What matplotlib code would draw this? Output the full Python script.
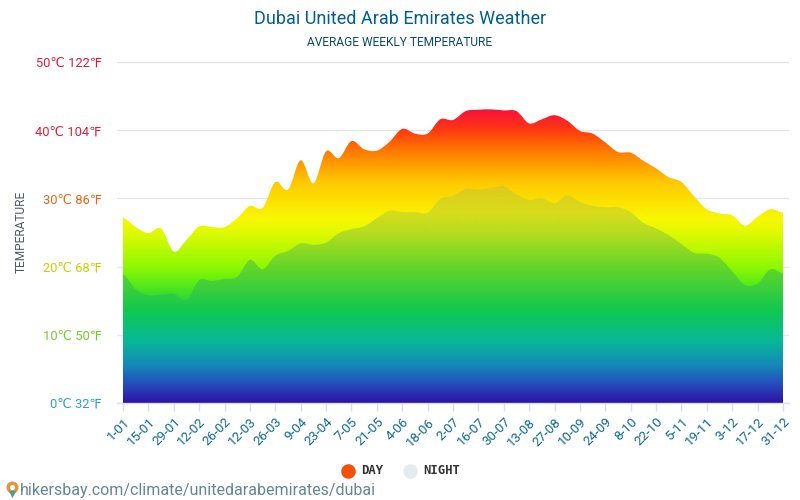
import numpy as np
import matplotlib
matplotlib.use("Agg")
import matplotlib.pyplot as plt
from matplotlib.colors import LinearSegmentedColormap
from matplotlib.path import Path
from matplotlib.patches import PathPatch

plt.rcParams['font.family'] = ['Roboto', 'DejaVu Sans']

# ----------------------------------
# Data
# ----------------------------------
day_temp = [27.2, 25.8, 24.9, 25.6, 22.2, 23.9, 25.9, 25.8, 25.8, 27.1, 28.9, 28.6,
            32.4, 31.3, 35.6, 32.2, 36.9, 35.9, 38.4, 37.2, 37.0, 38.3, 40.2, 39.5,
            39.5, 41.6, 41.5, 42.8, 43.0, 43.05, 42.9, 42.8, 41.0, 41.6, 42.2, 41.4,
            39.9, 39.5, 38.2, 36.8, 36.7, 35.5, 34.4, 33.1, 32.4, 30.3, 28.4, 27.8,
            27.5, 26.0, 27.3, 28.4, 27.9]
night_temp = [18.9, 16.7, 15.8, 15.9, 16.0, 15.1, 18.0, 17.9, 18.2, 18.5, 21.0, 19.6,
              21.6, 22.3, 23.4, 23.2, 23.5, 24.9, 25.5, 25.9, 27.1, 28.2, 28.0, 28.0,
              27.9, 29.9, 30.4, 31.4, 31.3, 31.5, 31.8, 30.6, 29.8, 30.0, 29.3, 30.4,
              29.5, 28.9, 28.7, 28.7, 28.0, 26.4, 25.6, 24.6, 23.3, 22.0, 21.9, 21.3,
              19.3, 17.3, 17.5, 19.6, 19.0]
tick_labels = ['1-01', '15-01', '29-01', '12-02', '26-02', '12-03', '26-03', '9-04', '23-04',
               '7-05', '21-05', '4-06', '18-06', '2-07', '16-07', '30-07', '13-08', '27-08',
               '10-09', '24-09', '8-10', '22-10', '5-11', '19-11', '3-12', '17-12', '31-12']
y_ticks = [0, 10, 20, 30, 40, 50]
y_labels = ['0℃ 32℉', '10℃ 50℉', '20℃ 68℉', '30℃ 86℉', '40℃ 104℉', '50℃ 122℉']
y_colors = ['#2f9fc4', '#6fd02a', '#c8d400', '#e8641a', '#e0203a', '#d81e3c']

# gradient stops, bottom to top (position on 0-50 degrees)
day_stops = [(0, '#2e12a8'), (3, '#2452bc'), (5.5, '#1488b8'), (9, '#08b89a'), (13.5, '#10c850'),
             (17, '#50e81c'), (20, '#90f800'), (25, '#e0fa00'), (27, '#f8f800'), (32.5, '#ffc800'),
             (37, '#ff7a00'), (40, '#ff3a10'), (43, '#f8103c'), (50, '#f00050')]
night_stops = [(0, '#2e12a8'), (3, '#2452bc'), (5.5, '#1488b8'), (9, '#08b89a'), (13.5, '#10c850'),
               (20, '#64d628'), (25, '#b8dc20'), (28, '#d8dc1c'), (32, '#e0c81c'), (50, '#e0c81c')]


def make_cmap(stops):
    return LinearSegmentedColormap.from_list('g', [(p / 50, c) for p, c in stops], N=512)


def area_path(xs, ys):
    # smooth top edge with bezier segments, closed down to zero
    verts = [(xs[0], 0), (xs[0], ys[0])]
    codes = [Path.MOVETO, Path.LINETO]
    n = len(xs)
    for i in range(n - 1):
        prev_y = ys[max(i - 1, 0)]
        next_y = ys[min(i + 2, n - 1)]
        verts += [(xs[i] + 1 / 3, ys[i] + (ys[i + 1] - prev_y) / 6),
                  (xs[i + 1] - 1 / 3, ys[i + 1] - (next_y - ys[i]) / 6),
                  (xs[i + 1], ys[i + 1])]
        codes += [Path.CURVE4] * 3
    verts += [(xs[-1], 0), (xs[0], 0)]
    codes += [Path.LINETO, Path.CLOSEPOLY]
    return Path(verts, codes)


# ----------------------------------
# Plot
# ----------------------------------
fig = plt.figure(figsize=(8, 5), dpi=100)
ax = fig.add_axes([117 / 800, 1 - 403 / 500, 672 / 800, 341 / 500])
weeks = np.arange(len(day_temp))

grad = np.linspace(0, 1, 512).reshape(-1, 1)
for temps, stops, z in [(day_temp, day_stops, 2), (night_temp, night_stops, 3)]:
    im = ax.imshow(grad, origin='lower', aspect='auto', extent=(0, 52, 0, 50),
                   cmap=make_cmap(stops), vmin=0, vmax=1, zorder=z)
    clip = PathPatch(area_path(weeks, temps), transform=ax.transData, fc='none', ec='none')
    ax.add_patch(clip)
    im.set_clip_path(clip)
ax.set_xlim(-0.473, 52.473)
ax.set_ylim(0, 50)

for s in ['top', 'left', 'right']:
    ax.spines[s].set_visible(False)
ax.spines['bottom'].set_color('#d8deee')
ax.spines['bottom'].set_linewidth(1)
ax.spines['bottom'].set_zorder(5)

ax.set_yticks(y_ticks)
ax.set_yticklabels(y_labels, fontsize=9.3)
for lab, c in zip(ax.get_yticklabels(), y_colors):
    lab.set_color(c)
ax.tick_params(axis='y', length=0, pad=11)
ax.grid(axis='y', color='#e6e6e6', linewidth=1)
ax.set_axisbelow(True)

ax.set_xticks(weeks[::2])
ax.set_xticklabels(tick_labels, rotation=45, ha='right', rotation_mode='anchor',
                   fontsize=9.6, color='#0f6a96')
ax.tick_params(axis='x', length=6, color='#d8deee', width=1, pad=3)

fig.text(21 / 800, 1 - 232 / 500, 'TEMPERATURE', rotation=90, ha='center', va='center',
         fontsize=8.6, color='#4d5a66')
fig.text(400 / 800, 1 - 19 / 500, 'Dubai United Arab Emirates Weather', ha='center', va='center',
         fontsize=12.95, color='#005f8f')
fig.text(400 / 800, 1 - 42 / 500, 'AVERAGE WEEKLY TEMPERATURE', ha='center', va='center',
         fontsize=8.6, color='#0b4a6f')

# legend
fig.text(361 / 800, 1 - 471 / 500, 'DAY', ha='left', va='center', fontsize=8.8,
         family='DejaVu Sans Mono', fontweight='bold', color='#333333')
fig.text(423 / 800, 1 - 471 / 500, 'NIGHT', ha='left', va='center', fontsize=8.8,
         family='DejaVu Sans Mono', fontweight='bold', color='#333333')
over = fig.add_axes([0, 0, 1, 1], facecolor='none')
over.set_xlim(0, 800)
over.set_ylim(500, 0)
over.axis('off')
over.scatter([348], [470.5], s=110, color='#f4500c', linewidths=0)
over.scatter([410], [470.5], s=110, color='#e6ebf0', linewidths=0)

# source line and pin
over.scatter([12], [487], s=75, color='#e8923a', linewidths=0)
over.scatter([12], [494], s=28, marker='v', color='#4f9e8c', linewidths=0)
over.scatter([12], [487], s=14, color='white', linewidths=0)
fig.text(20 / 800, 1 - 490 / 500, 'hikersbay.com/climate/unitedarabemirates/dubai', ha='left', va='center',
         fontsize=11.5, color='#64869a')

fig.savefig('out.png', dpi=100)
